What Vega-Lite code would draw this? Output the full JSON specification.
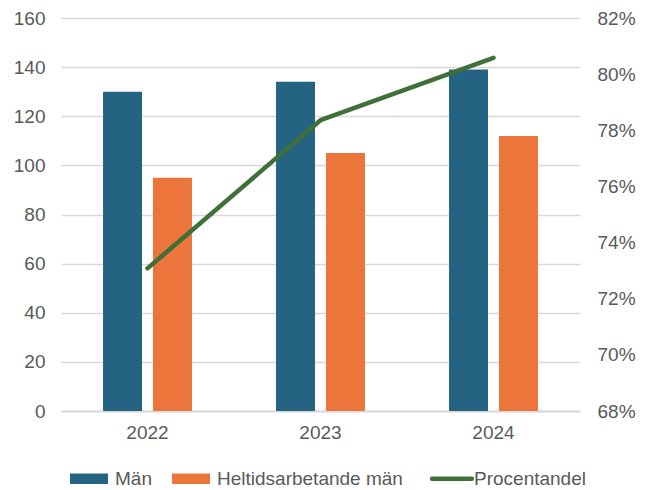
{
  "$schema": "https://vega.github.io/schema/vega-lite/v6.json",
  "width": 519,
  "height": 393,
  "autosize": "none",
  "padding": {"left": 61, "top": 18, "right": 72, "bottom": 79},
  "background": "white",
  "config": {
    "view": {"stroke": null},
    "font": "Liberation Sans",
    "axis": {"labelFont": "Liberation Sans", "labelFontSize": 19, "labelColor": "#595959", "ticks": false, "title": null}
  },
  "layer": [
    {
      "data": {"values": [
        {"year": "2022", "series": "Män", "value": 130},
        {"year": "2022", "series": "Heltidsarbetande män", "value": 95},
        {"year": "2023", "series": "Män", "value": 134},
        {"year": "2023", "series": "Heltidsarbetande män", "value": 105},
        {"year": "2024", "series": "Män", "value": 139},
        {"year": "2024", "series": "Heltidsarbetande män", "value": 112}
      ]},
      "mark": {"type": "bar"},
      "encoding": {
        "x": {"field": "year", "type": "nominal", "scale": {"paddingInner": 0.486, "paddingOuter": 0.243},
          "axis": {"labelAngle": 0, "domainColor": "#d9d9d9", "domainWidth": 2, "labelPadding": 12, "grid": false}},
        "xOffset": {"field": "series", "type": "nominal", "sort": ["Män", "Heltidsarbetande män"], "scale": {"paddingInner": 0.22, "paddingOuter": 0}},
        "y": {"field": "value", "type": "quantitative", "scale": {"domain": [0, 160], "nice": false},
          "axis": {"orient": "left", "values": [0, 20, 40, 60, 80, 100, 120, 140, 160], "domain": false, "grid": true, "gridColor": "#d9d9d9", "gridWidth": 1.5, "labelPadding": 16}},
        "color": {"field": "series", "type": "nominal",
          "scale": {"domain": ["Män", "Heltidsarbetande män", "Procentandel"], "range": ["#246381", "#EB753A", "#3F7039"]},
          "legend": {
            "orient": "none", "legendX": 9, "legendY": 451, "direction": "horizontal", "title": null,
            "labelFont": "Liberation Sans", "labelFontSize": 19, "labelColor": "#595959", "labelLimit": 400,
            "symbolSize": 1444, "labelOffset": 6, "columnPadding": 20,
            "symbolType": "M-1,-0.27H1V0.27H-1Z",
            "encode": {
              "symbols": {"update": {
                "x": {"signal": "datum.value === 'Procentandel' ? 9 : 19"},
                "shape": {"signal": "datum.value === 'Procentandel' ? 'M-1,0H1.1' : 'M-1,-0.27H1V0.27H-1Z'"},
                "size": {"value": 1444},
                "stroke": {"signal": "scale('color', datum.value)"},
                "strokeWidth": {"signal": "datum.value === 'Procentandel' ? 4.5 : 0"},
                "strokeCap": {"value": "round"},
                "fillOpacity": {"signal": "datum.value === 'Procentandel' ? 0 : 1"}
              }},
              "labels": {"update": {"x": {"signal": "datum.value === 'Procentandel' ? 32 : 45"}}}
            }
          }}
      }
    },
    {
      "data": {"values": [
        {"year": "2022", "series": "Procentandel", "pct": 0.7308},
        {"year": "2023", "series": "Procentandel", "pct": 0.7836},
        {"year": "2024", "series": "Procentandel", "pct": 0.8058}
      ]},
      "mark": {"type": "line", "strokeWidth": 4.5, "strokeCap": "round", "strokeJoin": "round"},
      "encoding": {
        "x": {"field": "year", "type": "nominal"},
        "y": {"field": "pct", "type": "quantitative", "scale": {"domain": [0.68, 0.82], "nice": false, "zero": false},
          "axis": {"orient": "right", "values": [0.68, 0.70, 0.72, 0.74, 0.76, 0.78, 0.80, 0.82], "format": ".0%", "domain": false, "grid": false, "labelPadding": 17}},
        "color": {"field": "series", "type": "nominal"}
      }
    }
  ],
  "resolve": {"scale": {"y": "independent"}}
}
